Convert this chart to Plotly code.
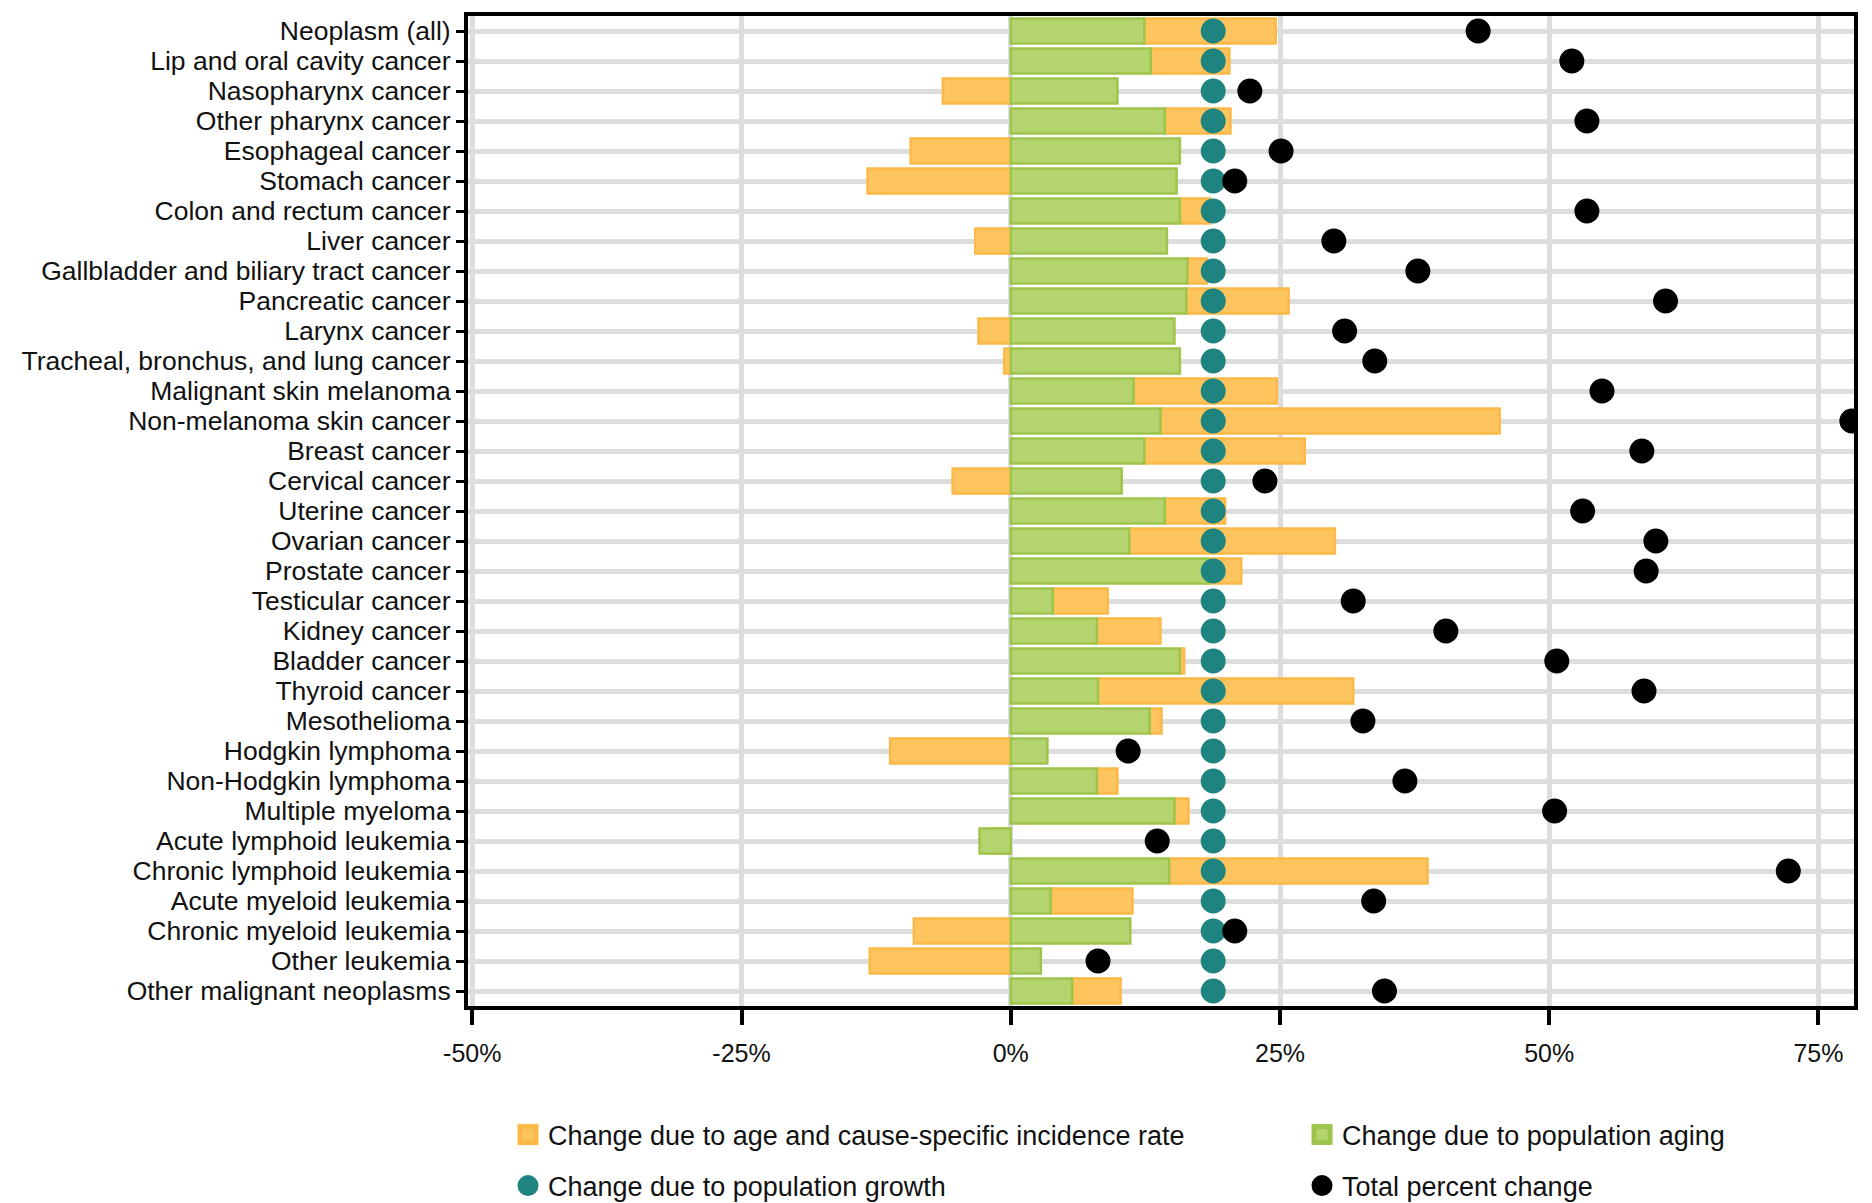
import plotly.graph_objects as go

causes = [
    "Neoplasm (all)", "Lip and oral cavity cancer", "Nasopharynx cancer", "Other pharynx cancer",
    "Esophageal cancer", "Stomach cancer", "Colon and rectum cancer", "Liver cancer",
    "Gallbladder and biliary tract cancer", "Pancreatic cancer", "Larynx cancer",
    "Tracheal, bronchus, and lung cancer", "Malignant skin melanoma", "Non-melanoma skin cancer",
    "Breast cancer", "Cervical cancer", "Uterine cancer", "Ovarian cancer", "Prostate cancer",
    "Testicular cancer", "Kidney cancer", "Bladder cancer", "Thyroid cancer", "Mesothelioma",
    "Hodgkin lymphoma", "Non-Hodgkin lymphoma", "Multiple myeloma", "Acute lymphoid leukemia",
    "Chronic lymphoid leukemia", "Acute myeloid leukemia", "Chronic myeloid leukemia",
    "Other leukemia", "Other malignant neoplasms",
]

# Change due to population aging (%)
aging = [12.4, 13.0, 9.9, 14.3, 15.7, 15.4, 15.7, 14.5, 16.4, 16.3, 15.2, 15.7, 11.4, 13.9,
         12.4, 10.3, 14.3, 11.0, 18.3, 3.9, 8.0, 15.7, 8.1, 12.9, 3.4, 8.0, 15.2, -2.9,
         14.7, 3.7, 11.1, 2.8, 5.7]

# Change due to age and cause-specific incidence rate (%)
rate = [12.2, 7.3, -6.3, 6.1, -9.3, -13.3, 2.8, -3.3, 1.8, 9.5, -3.0, -0.6, 13.3, 31.5,
        14.9, -5.4, 5.6, 19.1, 3.1, 5.1, 5.9, 0.4, 23.7, 1.1, -11.2, 1.9, 1.3, -2.2,
        24.0, 7.6, -9.0, -13.1, 4.5]

# Change due to population growth (%)
growth = [18.8] * 33

# Total percent change (%)
total = [43.4, 52.1, 22.2, 53.5, 25.1, 20.8, 53.5, 30.0, 37.8, 60.8, 31.0, 33.8, 54.9, 78.1,
         58.6, 23.6, 53.1, 59.9, 59.0, 31.8, 40.4, 50.7, 58.8, 32.7, 10.9, 36.6, 50.5, 13.6,
         72.2, 33.7, 20.8, 8.1, 34.7]

x_tickvals = [-50, -25, 0, 25, 50, 75]
x_ticktext = ["-50%", "-25%", "0%", "25%", "50%", "75%"]

ORANGE = "#FEC55F"
ORANGE_LINE = "#FCB948"
GREEN = "#B5D36F"
GREEN_LINE = "#9DC54B"
TEAL = "#1F8480"
BLACK = "#000000"
FONT = "Liberation Sans"
TEXT = "#111111"

W, H = 1864, 1195  # page adds an 8px body margin

orange_base = [a if r > 0 and a > 0 else 0 for a, r in zip(aging, rate)]

fig = go.Figure()

fig.add_trace(go.Bar(
    y=causes, x=rate, base=orange_base, orientation="h", width=0.83,
    marker=dict(color=ORANGE, line=dict(color=ORANGE_LINE, width=2.5)),
    showlegend=False, name="Change due to age and cause-specific incidence rate",
))
fig.add_trace(go.Bar(
    y=causes, x=aging, orientation="h", width=0.83,
    marker=dict(color=GREEN, line=dict(color=GREEN_LINE, width=2.5)),
    showlegend=False, name="Change due to population aging",
))
fig.add_trace(go.Scatter(
    y=causes, x=growth, mode="markers",
    marker=dict(color=TEAL, size=20, line=dict(color=TEAL, width=5)),
    name="Change due to population growth", showlegend=False,
))
fig.add_trace(go.Scatter(
    y=causes, x=total, mode="markers",
    marker=dict(color=BLACK, size=20, line=dict(color=BLACK, width=5)),
    name="Total percent change", showlegend=False,
))

# legend entries (one legend per entry to lay them out in a 2x2 grid)
legend_items = [
    ("legend", "square", ORANGE, ORANGE_LINE, "Change due to age and cause-specific incidence rate"),
    ("legend2", "square", GREEN, GREEN_LINE, "Change due to population aging"),
    ("legend3", "circle", TEAL, TEAL, "Change due to population growth"),
    ("legend4", "circle", BLACK, BLACK, "Total percent change"),
]
for lg, sym, col, lcol, name in legend_items:
    fig.add_trace(go.Scatter(
        x=[None], y=[None], mode="markers", legend=lg,
        marker=dict(symbol=sym, color=col, size=16, line=dict(color=lcol, width=5)),
        name=name,
    ))

def legend_at(px_x, px_y):
    return dict(
        orientation="h", xref="container", yref="container",
        x=px_x / W, y=1 - px_y / H, xanchor="left", yanchor="middle",
        font=dict(family=FONT, size=27, color=TEXT), bgcolor="rgba(0,0,0,0)",
    )

col1_x, col2_x = 500, 1294
row1_y, row2_y = 1127, 1178

fig.update_layout(
    width=W, height=H,
    margin=dict(l=460, r=18, t=4, b=197),
    paper_bgcolor="white", plot_bgcolor="white",
    barmode="overlay",
    font=dict(family=FONT, size=26, color=TEXT),
    legend=legend_at(col1_x, row1_y),
    legend2=legend_at(col2_x, row1_y),
    legend3=legend_at(col1_x, row2_y),
    legend4=legend_at(col2_x, row2_y),
    xaxis=dict(
        range=[-50.4, 78.3], tickmode="array", tickvals=x_tickvals, ticktext=x_ticktext,
        showgrid=True, gridcolor="#dddddd", gridwidth=5, zeroline=False,
        showline=True, linecolor="black", linewidth=4, mirror=True,
        ticks="outside", ticklen=15, tickwidth=4, tickcolor="black",
        tickfont=dict(family=FONT, size=25, color=TEXT),
        ticklabelstandoff=7,
    ),
    yaxis=dict(
        categoryorder="array", categoryarray=causes, range=[32.5, -0.5],
        tickmode="array", tickvals=causes, ticktext=causes,
        showgrid=True, gridcolor="#dddddd", gridwidth=5, zeroline=False,
        showline=True, linecolor="black", linewidth=4, mirror=True,
        ticks="outside", ticklen=8, tickwidth=3, tickcolor="black",
        tickfont=dict(family=FONT, size=26.5, color=TEXT),
        ticklabelstandoff=0,
    ),
)

fig.write_html("out.html")
